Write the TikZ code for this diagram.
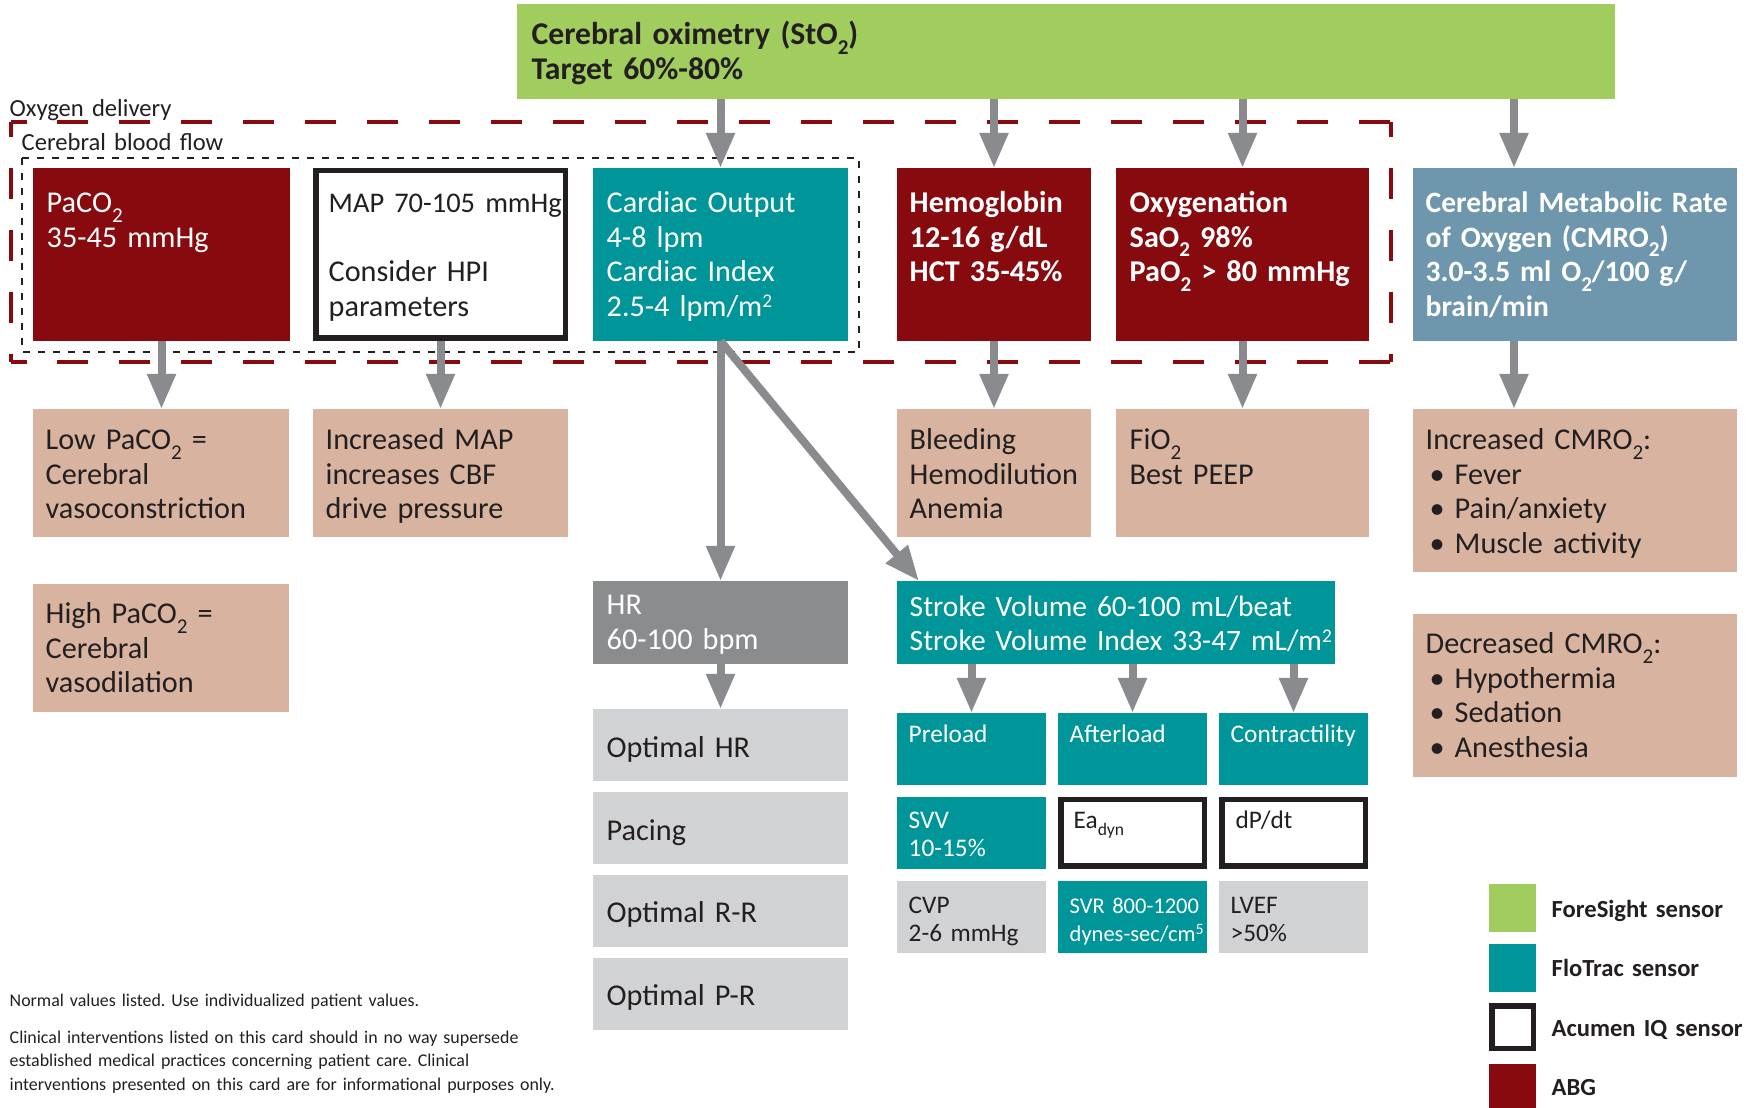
\documentclass[tikz,border=0pt]{standalone}
\usepackage{fontspec}
\setmainfont{Carlito}[WordSpace=0.75]
\usepackage{tikz}
\usetikzlibrary{arrows.meta, positioning}
\definecolor{foresightgreen}{RGB}{161,205,94}
\definecolor{flotracteal}{RGB}{0,150,153}
\definecolor{abgred}{RGB}{134,10,14}
\definecolor{cmroblue}{RGB}{110,150,172}
\definecolor{causetan}{RGB}{216,180,160}
\definecolor{hrgray}{RGB}{139,140,142}
\definecolor{optgray}{RGB}{209,210,212}
\definecolor{arrowgray}{RGB}{138,139,143}
\definecolor{ink}{RGB}{35,31,32}
\newcommand{\subtwo}{\raisebox{-2.6pt}{\fontsize{6}{6}\selectfont 2}}
\newcommand{\suptxt}[1]{\raisebox{2.4pt}{\fontsize{5.5}{5.5}\selectfont #1}}
\newcommand{\itembul}{\hspace*{0.4mm}\makebox[2.5mm][l]{\textbullet}}
\frenchspacing

\begin{document}
\begin{tikzpicture}[x=0.1mm, y=-0.1mm,
    box/.style={rectangle, anchor=north west, inner sep=0pt, outer sep=0pt},
    foresight/.style={box, fill=foresightgreen},
    flotrac/.style={box, fill=flotracteal},
    acumen/.style={box, draw=ink, fill=white, line width=0.55mm, outer sep=0.275mm},
    abg/.style={box, fill=abgred},
    cmro/.style={box, fill=cmroblue},
    cause/.style={box, fill=causetan},
    hrbox/.style={box, fill=hrgray},
    opt/.style={box, fill=optgray, minimum width=25.5mm, minimum height=7.2mm},
    cell/.style={minimum width=14.9mm, minimum height=7.2mm},
    txt/.style={anchor=base west, inner sep=0pt, align=left, text width=50mm, text=ink, font=\fontsize{8.6}{9.8}\selectfont},
    wtxt/.style={txt, text=white},
    btxt/.style={txt, text=white, font=\fontsize{8.6}{9.8}\selectfont\bfseries},
    stxt/.style={txt, font=\fontsize{7.2}{8.2}\selectfont},
    legtxt/.style={txt, font=\fontsize{7}{8.4}\selectfont\bfseries},
    note/.style={txt, text width=70mm, font=\fontsize{5.1}{6.8}\selectfont},
    arr/.style={draw=arrowgray, line width=0.8mm, -{Triangle[width=2.7mm, length=3.5mm]}}]

    \useasboundingbox (0,0) rectangle (1750,1108);

    % delivery and blood flow frames
    \draw[abgred, line width=0.4mm, dash pattern=on 3.1mm off 3.1mm, dash phase=1.55mm]
        (11,122) -- (1391,122) (11,362) -- (1391,362) (11,122) -- (11,362) (1391,122) -- (1391,362);
    \draw[ink, line width=0.28mm, dash pattern=on 0.75mm off 0.75mm] (22,158) rectangle (859,352);
    \node[txt, font=\fontsize{7}{8}\selectfont] (deliv) at (9,117) {Oxygen delivery};
    \node[txt, font=\fontsize{7}{8}\selectfont] (cbf) at (21,151) {Cerebral blood flow};

    \node[foresight, minimum width=109.8mm, minimum height=9.5mm] (sto2) at (517,4) {};
    \node[btxt, text=ink, font=\fontsize{9}{9.9}\selectfont\bfseries] (sto2txt) at ([shift={(14,41)}]sto2.north west) {Cerebral oximetry (StO\subtwo)\\Target 60\%-80\%};

    % first row
    \node[abg, minimum width=25.7mm, minimum height=17.3mm] (paco2) at (33,168) {};
    \node[acumen, minimum width=24.95mm, minimum height=16.75mm] (map) at (313,168) {};
    \node[flotrac, minimum width=25.5mm, minimum height=17.3mm] (co) at (593,168) {};
    \node[abg, minimum width=19.4mm, minimum height=17.3mm] (hb) at (897,168) {};
    \node[abg, minimum width=25.3mm, minimum height=17.3mm] (oxy) at (1116,168) {};
    \node[cmro, minimum width=32.4mm, minimum height=17.3mm] (cmro2) at (1413,168) {};
    \node[wtxt] (paco2txt) at ([shift={(13,45)}]paco2.north west) {PaCO\subtwo\\35-45 mmHg};
    \node[txt] (maptxt) at ([shift={(15,45)}]map.north west) {{\fontsize{8.1}{9.8}\selectfont MAP 70-105 mmHg}\\[9.8pt]Consider HPI\\parameters};
    \node[wtxt] (cotxt) at ([shift={(13,45)}]co.north west) {Cardiac Output\\4-8 lpm\\Cardiac Index\\2.5-4 lpm/m\suptxt{2}};
    \node[btxt] (hbtxt) at ([shift={(12,45)}]hb.north west) {Hemoglobin\\12-16 g/dL\\HCT 35-45\%};
    \node[btxt] (oxytxt) at ([shift={(13,45)}]oxy.north west) {Oxygenation\\SaO\subtwo{} 98\%\\PaO\subtwo{} > 80 mmHg};
    \node[btxt, font=\fontsize{8.4}{9.8}\selectfont\bfseries] (cmro2txt) at ([shift={(12,45)}]cmro2.north west) {Cerebral Metabolic Rate\\of Oxygen (CMRO\subtwo)\\3.0-3.5 ml O\subtwo/100 g/\\brain/min};

    % causes
    \node[cause, minimum width=25.6mm, minimum height=12.8mm] (lowco2) at (33,409) {};
    \node[cause, minimum width=25.5mm, minimum height=12.8mm] (incmap) at (313,409) {};
    \node[cause, minimum width=19.4mm, minimum height=12.8mm] (bleed) at (897,409) {};
    \node[cause, minimum width=25.3mm, minimum height=12.8mm] (fio2) at (1116,409) {};
    \node[cause, minimum width=32.4mm, minimum height=16.3mm] (inccmro) at (1413,409) {};
    \node[cause, minimum width=25.6mm, minimum height=12.8mm] (highco2) at (33,584) {};
    \node[cause, minimum width=32.4mm, minimum height=16.3mm] (deccmro) at (1413,614) {};
    \node[txt] (lowco2txt) at ([shift={(12,41)}]lowco2.north west) {Low PaCO\subtwo{} =\\Cerebral\\vasoconstriction};
    \node[txt] (incmaptxt) at ([shift={(12,41)}]incmap.north west) {Increased MAP\\increases CBF\\drive pressure};
    \node[txt] (bleedtxt) at ([shift={(12,41)}]bleed.north west) {Bleeding\\Hemodilution\\Anemia};
    \node[txt] (fio2txt) at ([shift={(13,41)}]fio2.north west) {FiO\subtwo\\Best PEEP};
    \node[txt] (inccmrotxt) at ([shift={(12,41)}]inccmro.north west) {Increased CMRO\subtwo:\\\itembul Fever\\\itembul Pain/anxiety\\\itembul Muscle activity};
    \node[txt] (highco2txt) at ([shift={(12,40)}]highco2.north west) {High PaCO\subtwo{} =\\Cerebral\\vasodilation};
    \node[txt] (deccmrotxt) at ([shift={(12,40)}]deccmro.north west) {Decreased CMRO\subtwo:\\\itembul Hypothermia\\\itembul Sedation\\\itembul Anesthesia};

    % heart rate column
    \node[hrbox, minimum width=25.5mm, minimum height=8.3mm] (hr) at (593,581) {};
    \node[wtxt] (hrtxt) at ([shift={(13,34)}]hr.north west) {HR\\60-100 bpm};
    \node[opt] (opthr) at (593,709) {};
    \node[opt, below=1.1mm of opthr] (pacing) {};
    \node[opt, below=1.1mm of pacing] (optrr) {};
    \node[opt, below=1.1mm of optrr] (optpr) {};
    \node[txt] (opthrtxt) at ([shift={(13,48)}]opthr.north west) {Optimal HR};
    \node[txt] (pacingtxt) at ([shift={(13,48)}]pacing.north west) {Pacing};
    \node[txt] (optrrtxt) at ([shift={(13,48)}]optrr.north west) {Optimal R-R};
    \node[txt] (optprtxt) at ([shift={(13,48)}]optpr.north west) {Optimal P-R};

    % stroke volume grid
    \node[flotrac, minimum width=43.8mm, minimum height=8.3mm] (sv) at (897,581) {};
    \node[wtxt, font=\fontsize{8.4}{9.6}\selectfont] (svtxt) at ([shift={(12,36)}]sv.north west) {Stroke Volume 60-100 mL/beat\\Stroke Volume Index 33-47 mL/m\suptxt{2}};
    \node[flotrac, cell] (preload) at (897,713) {};
    \node[flotrac, cell, right=1.2mm of preload] (afterload) {};
    \node[flotrac, cell, right=1.2mm of afterload] (contract) {};
    \node[flotrac, cell, below=1.2mm of preload] (svv) {};
    \node[acumen, minimum width=14.35mm, minimum height=6.65mm, right=1.2mm of svv] (eadyn) {};
    \node[acumen, minimum width=14.35mm, minimum height=6.65mm, right=1.2mm of eadyn] (dpdt) {};
    \node[opt, cell, below=1.2mm of svv] (cvp) {};
    \node[flotrac, cell, right=1.2mm of cvp] (svr) {};
    \node[opt, cell, right=1.2mm of svr] (lvef) {};
    \node[stxt, text=white] (pretxt) at ([shift={(11,30)}]preload.north west) {Preload};
    \node[stxt, text=white] (afttxt) at ([shift={(11,30)}]afterload.north west) {Afterload};
    \node[stxt, text=white] (contracttxt) at ([shift={(11,30)}]contract.north west) {Contractility};
    \node[stxt, text=white] (svvtxt) at ([shift={(11,31)}]svv.north west) {SVV\\10-15\%};
    \node[stxt] (eatxt) at ([shift={(15,31)}]eadyn.north west) {Ea\raisebox{-2pt}{\fontsize{5}{5}\selectfont dyn}};
    \node[stxt] (dpdttxt) at ([shift={(16,31)}]dpdt.north west) {dP/dt};
    \node[stxt] (cvptxt) at ([shift={(11,32)}]cvp.north west) {CVP\\2-6 mmHg};
    \node[stxt, text=white, font=\fontsize{6.4}{8.2}\selectfont] (svrtxt) at ([shift={(11,32)}]svr.north west) {SVR 800-1200\\dynes-sec/cm\raisebox{2pt}{\fontsize{4.5}{4.5}\selectfont 5}};
    \node[stxt] (lveftxt) at ([shift={(11,32)}]lvef.north west) {LVEF\\>50\%};

    % legend
    \node[foresight, minimum width=4.7mm, minimum height=4.8mm] (lgfore) at (1489,884) {};
    \node[flotrac, minimum width=4.7mm, minimum height=4.8mm] (lgflo) at (1489,944) {};
    \node[acumen, minimum width=4.15mm, minimum height=4.25mm] (lgacu) at (1489,1003) {};
    \node[abg, minimum width=4.7mm, minimum height=4.4mm] (lgabg) at (1489,1064) {};
    \node[legtxt] (lgforetxt) at ([shift={(15,9)}]lgfore.east) {ForeSight sensor};
    \node[legtxt] (lgflotxt) at ([shift={(15,8)}]lgflo.east) {FloTrac sensor};
    \node[legtxt] (lgacutxt) at ([shift={(15,9)}]lgacu.east) {Acumen IQ sensor};
    \node[legtxt] (lgabgtxt) at ([shift={(15,9)}]lgabg.east) {ABG};

    \node[note] (normnote) at (9,1006) {Normal values listed. Use individualized patient values.};
    \node[note] (clinnote) at (9,1043) {Clinical interventions listed on this card should in no way supersede\\established medical practices concerning patient care. Clinical\\interventions presented on this card are for informational purposes only.};

    % arrows
    \draw[arr] (sto2.south -| co.north) -- (co.north);
    \draw[arr] (sto2.south -| hb.north) -- (hb.north);
    \draw[arr] (sto2.south -| oxy.north) -- (oxy.north);
    \coordinate (cmrotap) at ([xshift=10.1mm]cmro2.north west);
    \draw[arr] (sto2.south -| cmrotap) -- (cmrotap);
    \draw[arr] (paco2.south) -- (paco2.south |- lowco2.north);
    \draw[arr] (map.south) -- (map.south |- incmap.north);
    \draw[arr] (co.south) -- (hr.north);
    \draw[arr] (co.south) -- ([xshift=2.2mm]sv.north west);
    \draw[arr] (hb.south) -- (bleed.north);
    \draw[arr] (oxy.south) -- (fio2.north);
    \draw[arr] (cmro2.south -| cmrotap) -- (inccmro.north -| cmrotap);
    \draw[arr] (hr.south) -- (opthr.north);
    \draw[arr] (sv.south -| preload.north) -- (preload.north);
    \draw[arr] (sv.south -| afterload.north) -- (afterload.north);
    \draw[arr] (sv.south -| contract.north) -- (contract.north);
\end{tikzpicture}
\end{document}
